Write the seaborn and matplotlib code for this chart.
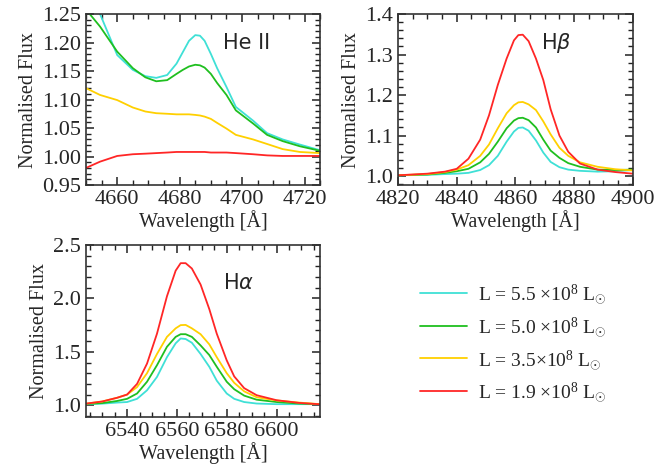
import numpy as np
import pandas as pd
import matplotlib
matplotlib.use("Agg")
import matplotlib.pyplot as plt
from matplotlib.ticker import MultipleLocator, FormatStrFormatter
from matplotlib.lines import Line2D
import seaborn as sns

# ---------------- data ----------------
series = ["L55", "L50", "L35", "L19"]
legend_labels = [r"L = 5.5 $\times$10$^{8}$ L$_{\odot}$",
                 r"L = 5.0 $\times$10$^{8}$ L$_{\odot}$",
                 r"L = 3.5$\times$10$^{8}$ L$_{\odot}$",
                 r"L = 1.9 $\times$10$^{8}$ L$_{\odot}$"]
colors = ["#3fe0d6", "#1fbf1f", "#ffd000", "#ff2626"]

heii_wl = [4650, 4654.5, 4660, 4665, 4669, 4672.5, 4676, 4679, 4681, 4683, 4685,
           4686.5, 4688, 4690, 4692, 4695, 4698, 4703.5, 4708, 4713, 4718.5, 4725]
heii_55 = [1.31, 1.250, 1.178, 1.152, 1.141, 1.138, 1.143, 1.163, 1.183, 1.203, 1.213,
           1.212, 1.203, 1.180, 1.155, 1.122, 1.087, 1.063, 1.041, 1.030, 1.021, 1.011]
heii_50 = [1.258, 1.228, 1.184, 1.155, 1.139, 1.132, 1.134, 1.145, 1.152, 1.158, 1.161,
           1.160, 1.156, 1.145, 1.129, 1.108, 1.081, 1.058, 1.038, 1.027, 1.018, 1.010]
heii_35 = [1.120, 1.108, 1.099, 1.086, 1.079, 1.076, 1.075, 1.074, 1.074, 1.074, 1.073,
           1.072, 1.070, 1.066, 1.059, 1.049, 1.038, 1.030, 1.022, 1.013, 1.008, 1.006]
heii_19 = [0.980, 0.991, 1.001, 1.004, 1.005, 1.006, 1.007, 1.008, 1.008, 1.008, 1.008,
           1.008, 1.008, 1.007, 1.007, 1.007, 1.006, 1.004, 1.002, 1.001, 1.001, 1.001]

hb_wl = [4820, 4830, 4836, 4840, 4844, 4848, 4851, 4854, 4857, 4859.5, 4861, 4862.5,
         4864.5, 4867, 4869.5, 4872, 4875, 4878, 4882, 4888, 4894, 4900]
hb_55 = [1.002, 1.003, 1.005, 1.006, 1.008, 1.015, 1.027, 1.05, 1.085, 1.11, 1.119, 1.12,
         1.112, 1.088, 1.058, 1.035, 1.022, 1.016, 1.013, 1.011, 1.012, 1.015]
hb_50 = [1.002, 1.004, 1.008, 1.012, 1.018, 1.034, 1.055, 1.085, 1.118, 1.137, 1.143, 1.144,
         1.138, 1.12, 1.09, 1.063, 1.045, 1.032, 1.023, 1.016, 1.015, 1.016]
hb_35 = [1.002, 1.005, 1.010, 1.016, 1.027, 1.05, 1.078, 1.118, 1.155, 1.175, 1.182, 1.183,
         1.177, 1.163, 1.135, 1.103, 1.07, 1.05, 1.034, 1.023, 1.017, 1.014]
hb_19 = [1.002, 1.006, 1.011, 1.018, 1.043, 1.09, 1.15, 1.225, 1.29, 1.335, 1.348, 1.349,
         1.333, 1.29, 1.237, 1.165, 1.10, 1.06, 1.031, 1.016, 1.010, 1.006]

ha_wl = [6523.5, 6530, 6536, 6540, 6544, 6548, 6552, 6556, 6559.5, 6561.5, 6563.5, 6566,
         6569.5, 6573, 6576, 6580, 6583, 6587, 6592, 6600, 6609, 6617.5]
ha_55 = [1.01, 1.015, 1.025, 1.03, 1.06, 1.14, 1.265, 1.45, 1.58, 1.625, 1.62, 1.585,
         1.48, 1.36, 1.23, 1.11, 1.06, 1.03, 1.016, 1.01, 1.01, 1.01]
ha_50 = [1.012, 1.02, 1.04, 1.06, 1.11, 1.22, 1.375, 1.547, 1.64, 1.665, 1.665, 1.64,
         1.56, 1.47, 1.36, 1.22, 1.15, 1.09, 1.052, 1.03, 1.016, 1.01]
ha_35 = [1.015, 1.035, 1.07, 1.10, 1.17, 1.30, 1.48, 1.64, 1.72, 1.75, 1.752, 1.72,
         1.665, 1.57, 1.45, 1.30, 1.21, 1.13, 1.075, 1.045, 1.025, 1.01]
ha_19 = [1.015, 1.035, 1.07, 1.10, 1.20, 1.39, 1.67, 2.02, 2.26, 2.33, 2.33, 2.28,
         2.13, 1.90, 1.67, 1.42, 1.27, 1.16, 1.094, 1.047, 1.022, 1.009]


def long_df(wl, vals):
    rows = []
    for s, v in zip(series, vals):
        for x, y in zip(wl, v):
            rows.append((x, y, s))
    return pd.DataFrame(rows, columns=["wl", "flux", "L"])


sns.set_style("ticks")
plt.rcParams["font.family"] = ["Liberation Serif", "DejaVu Serif"]
plt.rcParams["mathtext.fontset"] = "custom"
plt.rcParams["mathtext.rm"] = "Liberation Serif"
plt.rcParams["mathtext.it"] = "Liberation Serif:italic"

fig = plt.figure(figsize=(6.54, 4.69), dpi=100)
ax1 = fig.add_axes([0.1315, 0.6055, 0.358, 0.3646])
ax2 = fig.add_axes([0.6086, 0.6055, 0.359, 0.3646])
ax3 = fig.add_axes([0.1315, 0.1109, 0.358, 0.3667])

pal = dict(zip(series, colors))

panels = [
    (ax1, long_df(heii_wl, [heii_55, heii_50, heii_35, heii_19]),
     (4650, 4725), (0.95, 1.25), 20, 5, 0.05, 0.01, "%.2f", "He II",
     (0.585, 0.83)),
    (ax2, long_df(hb_wl, [hb_55, hb_50, hb_35, hb_19]),
     (4820, 4900), (0.978, 1.4), 20, 5, 0.1, 0.02, "%.1f", r"H$\beta$",
     (0.61, 0.83)),
    (ax3, long_df(ha_wl, [ha_55, ha_50, ha_35, ha_19]),
     (6523.5, 6617.5), (0.89, 2.5), 20, 5, 0.5, 0.1, "%.1f", r"H$\alpha$",
     (0.585, 0.78)),
]

for ax, df, xl, yl, xmaj, xmin, ymaj, ymin, fmt, name, pos in panels:
    sns.lineplot(data=df, x="wl", y="flux", hue="L", palette=pal, ax=ax,
                 linewidth=1.3, legend=False, sort=False)
    ax.set_xlim(*xl)
    ax.set_ylim(*yl)
    ax.xaxis.set_major_locator(MultipleLocator(xmaj))
    ax.xaxis.set_minor_locator(MultipleLocator(xmin))
    ax.yaxis.set_major_locator(MultipleLocator(ymaj))
    ax.yaxis.set_minor_locator(MultipleLocator(ymin))
    ax.yaxis.set_major_formatter(FormatStrFormatter(fmt))
    ax.tick_params(which="both", direction="in", top=True, right=True,
                   bottom=True, left=True, labelsize=16)
    ax.tick_params(which="major", length=6, width=1.1, color="#222222")
    ax.tick_params(which="minor", length=3.5, width=1.0, color="#222222")
    for sp in ax.spines.values():
        sp.set_linewidth(1.2)
        sp.set_color("#333333")
    ax.set_xlabel("Wavelength [Å]", fontsize=14.5, labelpad=1)
    ax.set_ylabel("Normalised Flux", fontsize=14.5, labelpad=3)
    ax.text(pos[0], pos[1], name, transform=ax.transAxes, fontsize=15,
            family=["DejaVu Sans"], ha="left", va="center",
            math_fontfamily="dejavusans")

ax3.set_xticks([6540, 6560, 6580, 6600])
ax3.xaxis.set_minor_locator(MultipleLocator(5))

handles = [Line2D([], [], color=c, lw=1.3) for c in colors]
fig.legend(handles, legend_labels, loc="center",
           bbox_to_anchor=(0.785, 0.268), frameon=False, fontsize=14,
           handlelength=2.4, labelspacing=0.45, handletextpad=0.6)

fig.savefig("out.png", dpi=100)
